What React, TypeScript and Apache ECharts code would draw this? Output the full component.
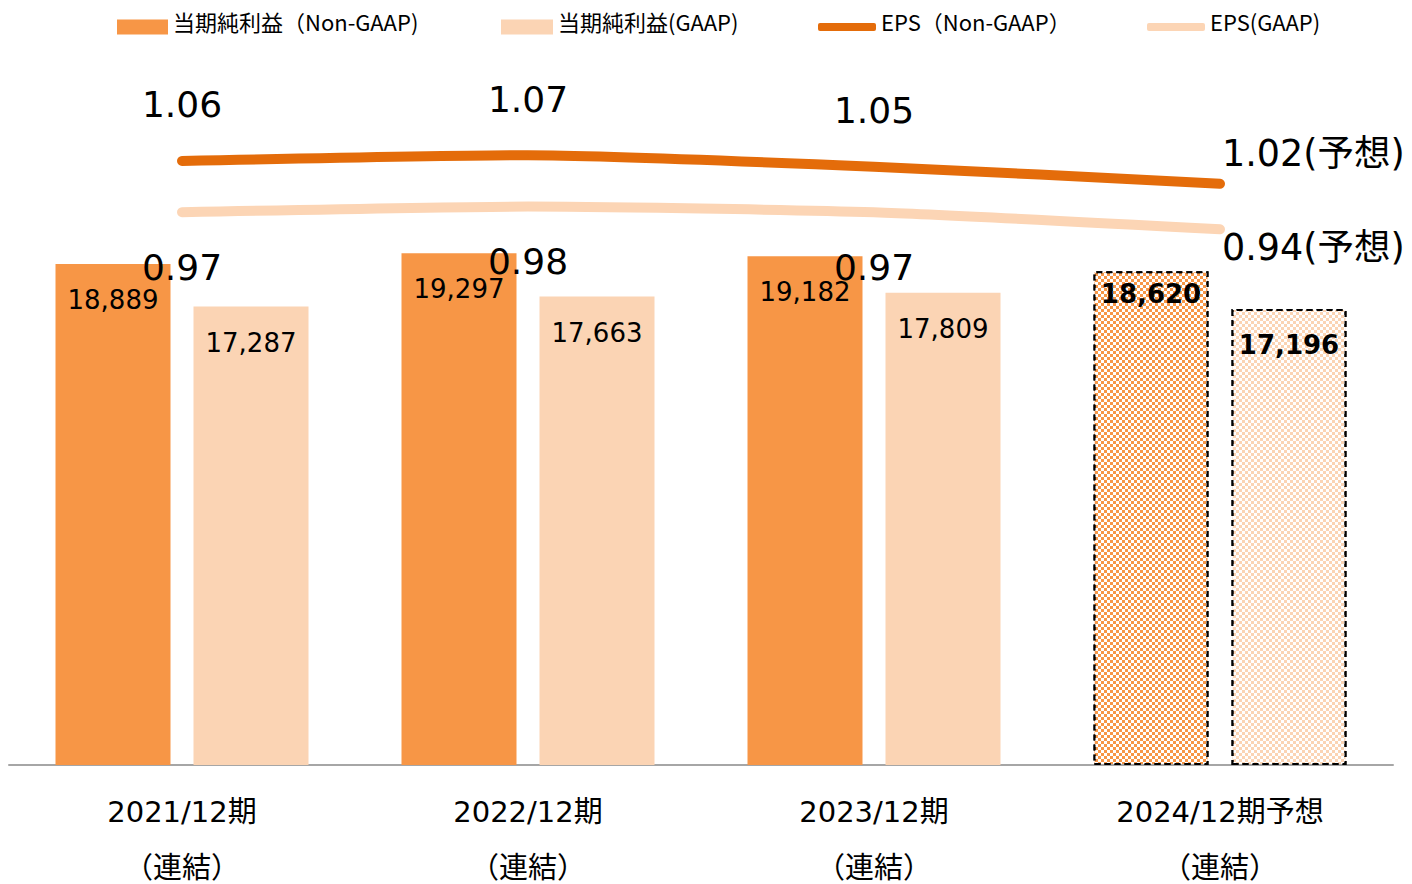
import React, { useEffect, useRef } from "react";
import * as echarts from "echarts";

const categories = ["2021/12期\n（連結）", "2022/12期\n（連結）", "2023/12期\n（連結）", "2024/12期予想\n（連結）"];
const netIncomeNonGaap = [18889, 19297, 19182, 18620];
const netIncomeGaap = [17287, 17663, 17809, 17196];
const epsNonGaap = [1.06, 1.07, 1.05, 1.02];
const epsGaap = [0.97, 0.98, 0.97, 0.94];
const forecastIndex = 3;
const seriesNames = ["当期純利益（Non-GAAP)", "当期純利益(GAAP)", "EPS（Non-GAAP）", "EPS(GAAP)"];

const FONT = "DejaVu Sans, Noto Sans CJK JP, sans-serif";
const C_BAR1 = "#F79646";
const C_BAR2 = "#FBD4B4";
const C_LINE1 = "#E46C0A";
const C_LINE2 = "#FCD5B5";

const checker = {
  symbol: "rect",
  symbolSize: 1,
  dashArrayX: [[3, 3], [0, 3, 3, 0]],
  dashArrayY: [3, 0],
  rotation: 0,
  color: "#ffffff",
};

function barData(vals: number[], color: string, forecastDistance: number) {
  return vals.map((v, i) =>
    i === forecastIndex
      ? {
          value: v,
          itemStyle: {
            color,
            borderColor: "#000",
            borderWidth: 2,
            borderType: [6, 4],
            decal: checker,
          },
          label: { fontWeight: "bold", distance: forecastDistance },
        }
      : { value: v }
  );
}

function lineData(vals: number[], lastOffsetY: number) {
  return vals.map((v, i) =>
    i === forecastIndex
      ? {
          value: v,
          label: {
            position: "right",
            distance: 1,
            offset: [0, lastOffsetY],
            fontSize: 36.5,
            formatter: (p: any) => `${p.value.toFixed(2)}(予想)`,
          },
        }
      : { value: v }
  );
}

export default function App() {
  const ref = useRef<HTMLDivElement>(null);
  useEffect(() => {
    if (!ref.current) return;
    const chart = echarts.init(ref.current, null, { renderer: "svg" });
    const legendBase = {
      top: 10,
      padding: 0,
      itemGap: 0,
      formatter: "{a|{name}}",
      textStyle: {
        fontFamily: "Noto Sans CJK JP, sans-serif",
        fontSize: 22,
        color: "#000",
        rich: {
          a: {
            fontFamily: "Noto Sans CJK JP, sans-serif",
            fontSize: 22,
            color: "#000",
            padding: [0, 0, 12, 0],
          },
        },
      },
      selectedMode: false,
    };
    chart.setOption({
      animation: false,
      backgroundColor: "#fff",
      legend: [
        { ...legendBase, left: 117, data: [seriesNames[0]], itemWidth: 51, itemHeight: 15, icon: "rect" },
        { ...legendBase, left: 501, data: [seriesNames[1]], itemWidth: 52, itemHeight: 15, icon: "rect" },
        { ...legendBase, left: 818, data: [seriesNames[2]], itemWidth: 58, itemHeight: 8, icon: "roundRect" },
        { ...legendBase, left: 1147, data: [seriesNames[3]], itemWidth: 58, itemHeight: 8, icon: "roundRect" },
      ],
      grid: { left: 9, right: 19, top: 102, bottom: 119, containLabel: false, outerBoundsMode: "none" },
      xAxis: {
        type: "category",
        data: categories,
        axisLine: { lineStyle: { color: "#A6A6A6", width: 2 } },
        axisTick: { show: false },
        axisLabel: {
          fontFamily: FONT,
          fontSize: 29,
          color: "#000",
          lineHeight: 56,
          margin: 19,
          interval: 0,
        },
      },
      yAxis: [
        { type: "value", min: 0, max: 25000, show: false, splitLine: { show: false } },
        { type: "value", min: 0, max: 1.1635, show: false, splitLine: { show: false } },
      ],
      series: [
        {
          name: seriesNames[0],
          type: "bar",
          barWidth: 115,
          barGap: "20%",
          itemStyle: { color: C_BAR1 },
          data: barData(netIncomeNonGaap, C_BAR1, 10),
          label: {
            show: true,
            position: "insideTop",
            distance: 23,
            fontFamily: FONT,
            fontSize: 26,
            color: "#000",
            formatter: (p: any) => p.value.toLocaleString("en-US"),
          },
        },
        {
          name: seriesNames[1],
          type: "bar",
          barWidth: 115,
          barGap: "20%",
          itemStyle: { color: C_BAR2 },
          data: barData(netIncomeGaap, C_BAR2, 23),
          label: {
            show: true,
            position: "insideTop",
            distance: 23,
            fontFamily: FONT,
            fontSize: 26,
            color: "#000",
            formatter: (p: any) => p.value.toLocaleString("en-US"),
          },
        },
        {
          name: seriesNames[2],
          type: "line",
          yAxisIndex: 1,
          smooth: 0.2,
          clip: false,
          symbol: "circle",
          symbolSize: 2,
          itemStyle: { color: C_LINE1 },
          lineStyle: { color: C_LINE1, width: 10, cap: "round" },
          data: lineData(epsNonGaap, -30),
          z: 5,
          label: {
            show: true,
            position: "top",
            distance: 37,
            fontFamily: FONT,
            fontSize: 36,
            color: "#000",
            formatter: (p: any) => p.value.toFixed(2),
          },
        },
        {
          name: seriesNames[3],
          type: "line",
          yAxisIndex: 1,
          smooth: 0.2,
          clip: false,
          symbol: "circle",
          symbolSize: 2,
          itemStyle: { color: C_LINE2 },
          lineStyle: { color: C_LINE2, width: 10, cap: "round" },
          data: lineData(epsGaap, 18),
          z: 5,
          label: {
            show: true,
            position: "bottom",
            distance: 36,
            fontFamily: FONT,
            fontSize: 36,
            color: "#000",
            formatter: (p: any) => p.value.toFixed(2),
          },
        },
      ],
    });
    return () => chart.dispose();
  }, []);
  return <div ref={ref} style={{ width: 1412, height: 884, position: "absolute", left: 0, top: 0 }} />;
}
